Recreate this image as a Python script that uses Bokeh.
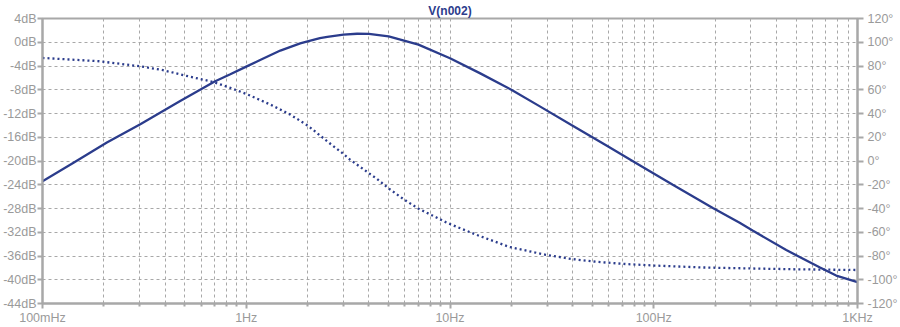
from bokeh.plotting import figure
from bokeh.models import Range1d, LinearAxis, FixedTicker, PrintfTickFormatter
from bokeh.embed import file_html
from bokeh.resources import INLINE

# ---- data (LTspice-style Bode plot of V(n002)) ----
mag_freq = [0.1, 0.142, 0.207, 0.302, 0.474, 0.7, 0.835, 1.0, 1.17, 1.47, 1.84,
            2.0, 2.3, 2.5, 3.0, 3.5, 4.0, 5.0, 7.0, 10.0, 14.0, 20.0, 27.6, 40.2,
            58.6, 85.3, 124.0, 195.0, 264.0, 307.0, 447.0, 651.0, 786.0, 1000.0]
mag_db = [-23.4, -20.3, -16.9, -13.8, -9.9, -6.6, -5.4, -4.1, -3.0, -1.4, -0.2,
          0.15, 0.7, 0.9, 1.3, 1.43, 1.4, 1.0, -0.4, -2.7, -5.2, -8.0, -10.8, -14.1,
          -17.4, -20.7, -24.0, -27.9, -30.4, -31.75, -35.0, -37.9, -39.3, -40.4]

phase_freq = [0.1, 0.19, 0.30, 0.39, 0.50, 0.69, 0.835, 1.0, 1.31, 1.64, 2.02,
              2.5, 2.97, 3.24, 3.73, 4.07, 4.38, 4.99, 5.9, 6.98, 8.58, 9.6,
              11.5, 13.9, 19.5, 29.5, 39.8, 51.7, 73.2, 100.0, 168.0, 300.0,
              500.0, 1000.0]
phase_deg = [86.8, 84.0, 79.8, 76.5, 72.0, 66.5, 61.6, 56.5, 47.6, 39.2, 29.4,
             16.5, 6.5, 1.0, -6.5, -11.2, -15.0, -23.0, -32.0, -40.0, -47.6, -51.8,
             -57.4, -63.0, -72.3, -79.0, -82.6, -84.8, -86.8, -88.0, -89.6, -90.5,
             -91.2, -91.8]

x_tick_values = [0.1, 1, 10, 100, 1000]
x_tick_labels = ["100mHz", "1Hz", "10Hz", "100Hz", "1KHz"]
x_minor_mults = [2, 3, 4, 5, 6, 7, 8, 9]
db_ticks = list(range(-44, 5, 4))
deg_ticks = list(range(-120, 121, 20))

BLUE = "#2b3c8c"
GRID = "#a8a8a8"
FRAME = "#a8a8a8"
LABEL = "#9a9a9a"
FONT = "Liberation Sans"

x_minor = [m * d for d in x_tick_values[:-1] for m in x_minor_mults]

p = figure(width=900, height=327, x_axis_type="log",
           x_range=Range1d(0.1, 1000), y_range=Range1d(-44, 4),
           output_backend="svg", toolbar_location=None, title="V(n002)",
           min_border_left=42, min_border_right=41, min_border_top=17,
           min_border_bottom=24)

p.extra_y_ranges = {"phase": Range1d(-120, 120)}

p.title.align = "center"
p.title.text_color = BLUE
p.title.text_font = FONT
p.title.text_font_size = "12px"
p.title.text_font_style = "bold"
p.title.standoff = 2
p.title.offset = 0

p.outline_line_color = FRAME
p.outline_line_width = 2
p.background_fill_color = "white"
p.border_fill_color = "white"

# grids
p.xgrid.ticker = FixedTicker(ticks=sorted(x_tick_values + x_minor))
p.ygrid.ticker = FixedTicker(ticks=db_ticks)
for g in (p.xgrid, p.ygrid):
    g.grid_line_color = GRID
    g.grid_line_dash = "3 3"
    g.grid_line_width = 1

# x axis
xa = p.xaxis[0]
xa.ticker = FixedTicker(ticks=x_tick_values, minor_ticks=x_minor)
xa.major_label_overrides = dict(zip(x_tick_values, x_tick_labels))
xa.major_tick_out = 5
xa.major_tick_in = 0
xa.minor_tick_out = 3
xa.minor_tick_in = 0
xa.major_label_standoff = 2

# left axis
ya = p.yaxis[0]
ya.ticker = FixedTicker(ticks=db_ticks)
ya.formatter = PrintfTickFormatter(format="%ddB")
ya.major_tick_out = 5
ya.major_tick_in = 0
ya.minor_tick_out = 0
ya.minor_tick_in = 0
ya.major_label_standoff = 1

# right axis
ra = LinearAxis(y_range_name="phase", ticker=FixedTicker(ticks=deg_ticks),
                formatter=PrintfTickFormatter(format="%d°"))
ra.major_tick_out = 6
ra.major_tick_in = 0
ra.minor_tick_out = 0
ra.minor_tick_in = 0
ra.major_label_standoff = 4
p.add_layout(ra, "right")

for ax in (xa, ya, ra):
    ax.axis_line_color = FRAME
    ax.axis_line_width = 2
    ax.major_tick_line_color = FRAME
    ax.major_tick_line_width = 2
    ax.minor_tick_line_color = FRAME
    ax.minor_tick_line_width = 2
    ax.major_label_text_color = LABEL
    ax.major_label_text_font = FONT
    ax.major_label_text_font_size = "12.5px"

# curves
p.line(mag_freq, mag_db, line_color=BLUE, line_width=2.3)
p.line(phase_freq, phase_deg, y_range_name="phase", line_color=BLUE,
       line_width=2.3, line_dash="2 3")

open("out.html", "w").write(file_html(p, INLINE))
